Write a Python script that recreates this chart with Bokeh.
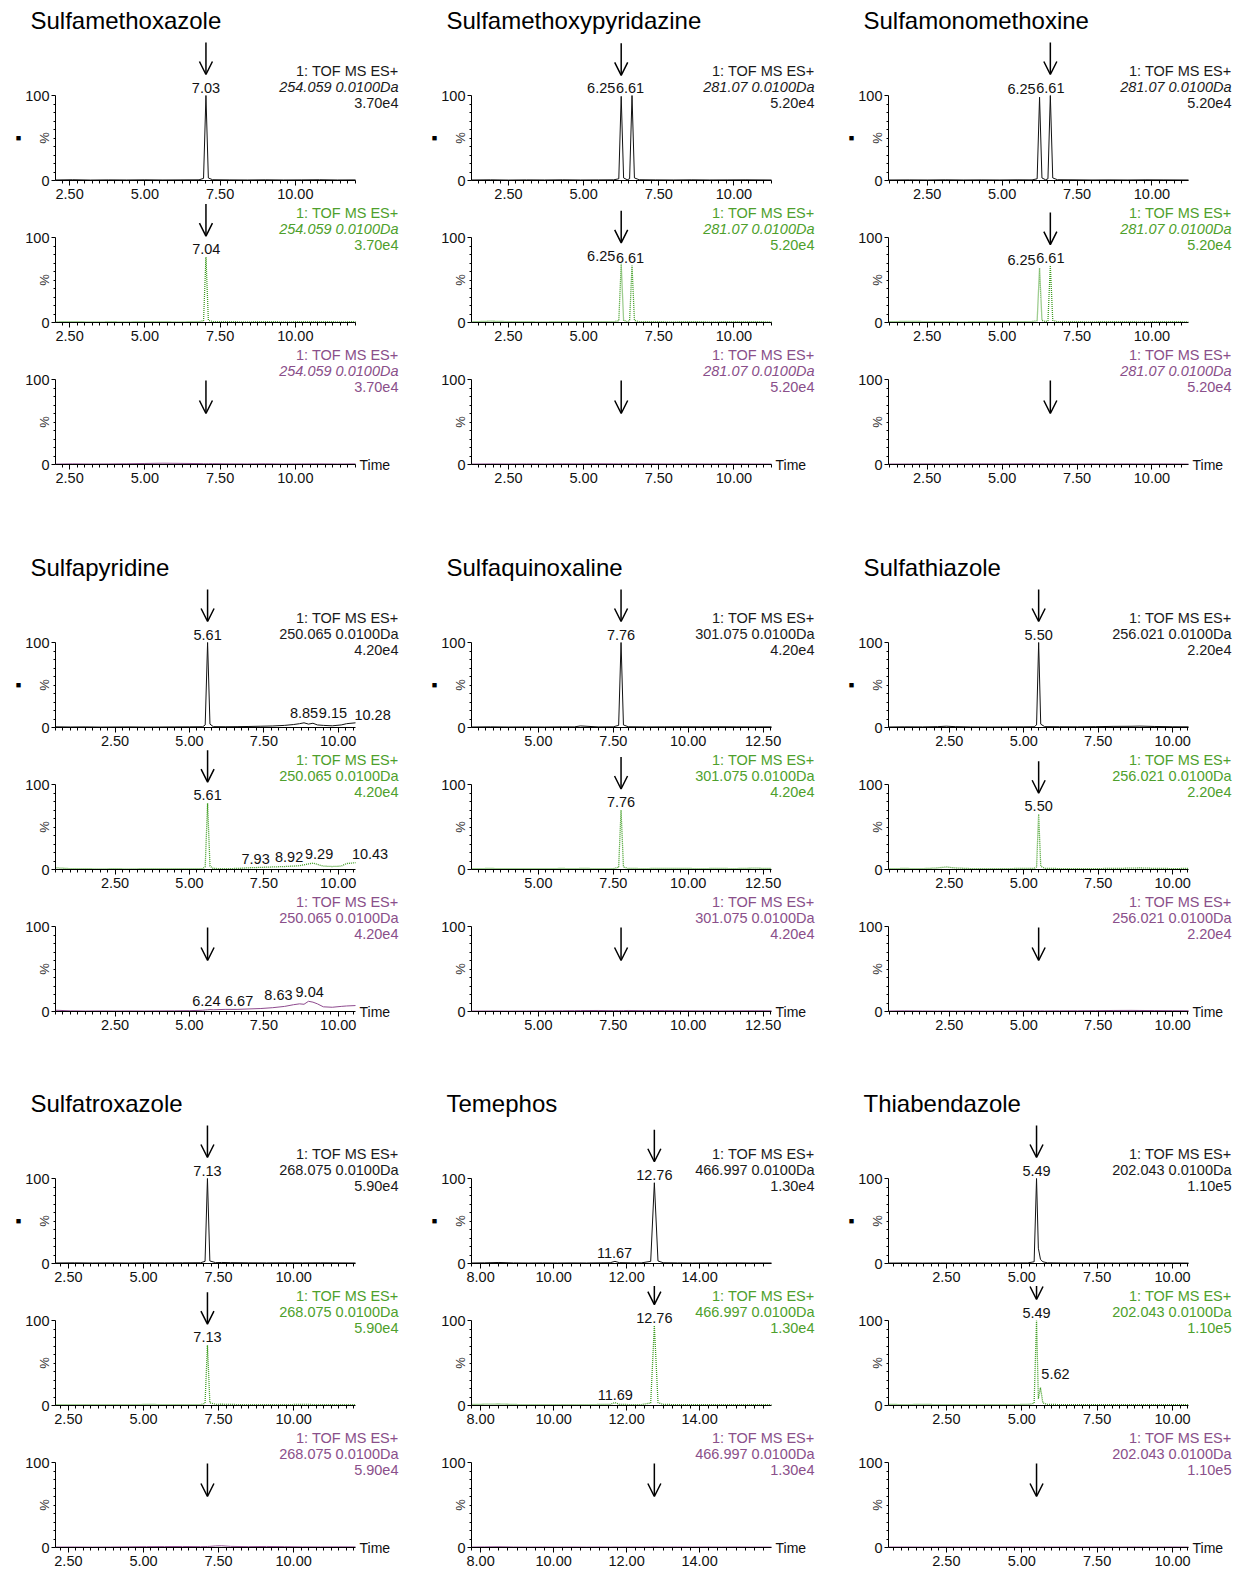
import math
import numpy as np
from bokeh.plotting import figure
from bokeh.models import Range1d, LinearAxis, FixedTicker, PrintfTickFormatter, Label, Arrow, OpenHead
from bokeh.layouts import row, column
from bokeh.embed import file_html
from bokeh.resources import INLINE

# ---------------- data ----------------
compounds = ["Sulfamethoxazole", "Sulfamethoxypyridazine", "Sulfamonomethoxine",
             "Sulfapyridine", "Sulfaquinoxaline", "Sulfathiazole",
             "Sulfatroxazole", "Temephos", "Thiabendazole"]
mz_labels = ["254.059", "281.07", "281.07", "250.065", "301.075", "256.021",
             "268.075", "466.997", "202.043"]
full_scale = ["3.70e4", "5.20e4", "5.20e4", "4.20e4", "4.20e4", "2.20e4",
              "5.90e4", "1.30e4", "1.10e5"]
mass_window = "0.0100Da"
function_label = "1: TOF MS ES+"
time_start = [2.03, 1.27, 1.21, 0.50, 2.77, 0.46, 2.07, 7.75, 0.58]
time_end = [12.00, 11.25, 11.22, 10.58, 12.78, 10.53, 12.06, 15.97, 10.53]
major_ticks = [[2.5, 5.0, 7.5, 10.0], [2.5, 5.0, 7.5, 10.0], [2.5, 5.0, 7.5, 10.0],
               [2.5, 5.0, 7.5, 10.0], [5.0, 7.5, 10.0, 12.5], [2.5, 5.0, 7.5, 10.0],
               [2.5, 5.0, 7.5, 10.0], [8.0, 10.0, 12.0, 14.0], [2.5, 5.0, 7.5, 10.0]]
arrow_rt = [7.03, 6.25, 6.61, 5.61, 7.76, 5.50, 7.13, 12.76, 5.49]

# chromatogram traces (time, % intensity): a = black, b = green, c = purple
t_smx = [2.03, 2.6, 3.2, 3.8, 4.4, 5.0, 5.6, 6.2, 6.8, 6.95, 7.03, 7.11, 7.25, 7.8, 8.4, 9.0, 9.6, 10.2, 10.8, 11.4, 12.0]
smx_a = [0.6, 0.9, 0.5, 0.7, 0.6, 0.8, 0.6, 0.7, 0.8, 2.5, 100, 3.0, 0.9, 0.7, 0.6, 0.8, 0.6, 0.7, 0.9, 0.6, 0.7]
smx_b = [0.8, 1.1, 0.7, 0.9, 0.8, 1.0, 0.9, 0.8, 1.0, 2.0, 77, 2.5, 1.0, 0.9, 0.8, 1.0, 0.8, 0.9, 1.1, 0.8, 0.9]
smx_c = [0.5, 0.8, 0.6, 0.7, 0.9, 1.2, 1.5, 1.3, 1.1, 1.0, 0.9, 1.0, 1.0, 0.8, 0.7, 0.9, 0.6, 0.7, 0.8, 0.6, 0.7]

t_smp = [1.27, 1.9, 2.5, 3.1, 3.7, 4.3, 4.9, 5.5, 6.0, 6.17, 6.25, 6.33, 6.45, 6.53, 6.61, 6.69, 6.85, 7.4, 8.0, 8.6, 9.2, 9.8, 10.4, 11.25]
smp_a = [0.6, 0.8, 0.5, 0.7, 0.6, 0.8, 0.6, 0.7, 0.8, 2.0, 99, 3.0, 0.9, 2.0, 100, 3.0, 0.9, 0.7, 0.6, 0.8, 0.6, 0.7, 0.8, 0.6]
smp_b = [0.8, 1.6, 1.0, 0.9, 0.8, 1.0, 0.9, 1.1, 1.0, 2.0, 69, 2.5, 1.0, 2.0, 67, 2.5, 1.0, 0.9, 0.8, 1.0, 0.8, 0.9, 1.0, 0.8]
smp_c = [0.5, 0.7, 0.6, 0.7, 0.6, 0.8, 0.7, 0.9, 0.8, 0.7, 0.8, 0.7, 0.8, 0.7, 0.8, 0.7, 0.8, 0.7, 0.6, 0.7, 0.6, 0.7, 0.6, 0.5]

t_smm = [1.21, 1.9, 2.5, 3.1, 3.7, 4.3, 4.9, 5.5, 6.0, 6.17, 6.25, 6.33, 6.45, 6.53, 6.61, 6.69, 6.85, 7.4, 8.0, 8.6, 9.2, 9.8, 10.4, 11.22]
smm_a = [0.6, 0.7, 0.6, 0.8, 0.6, 0.7, 0.6, 0.8, 0.7, 2.0, 98, 3.0, 0.9, 2.0, 100, 3.0, 0.9, 0.8, 0.6, 0.7, 0.6, 0.8, 0.7, 0.6]
smm_b = [0.9, 1.4, 1.0, 0.9, 0.8, 1.0, 0.9, 1.0, 1.1, 2.0, 64, 2.5, 1.0, 2.0, 67, 2.5, 1.0, 0.9, 0.8, 1.0, 0.9, 0.8, 1.0, 0.8]
smm_c = [0.5, 0.6, 0.7, 0.6, 0.7, 0.8, 0.7, 0.8, 0.9, 0.8, 0.7, 0.8, 0.7, 0.8, 0.7, 0.8, 0.7, 0.6, 0.7, 0.6, 0.7, 0.6, 0.7, 0.5]

t_spy = [0.5, 1.0, 1.5, 2.0, 2.5, 3.0, 3.5, 4.0, 4.5, 5.0, 5.45, 5.53, 5.61, 5.69, 5.8, 6.2, 6.6, 7.0, 7.4, 7.8,
         8.2, 8.5, 8.7, 8.85, 9.0, 9.15, 9.3, 9.5, 9.8, 10.1, 10.28, 10.58]
spy_a = [0.8, 0.6, 0.7, 0.5, 0.6, 0.7, 0.5, 0.6, 0.7, 0.8, 0.9, 3.0, 100, 4.0, 1.0, 0.9, 1.0, 1.2, 1.5, 1.8,
         2.5, 3.5, 4.5, 5.5, 4.0, 5.0, 3.0, 2.5, 2.0, 3.0, 4.5, 5.5]
spy_b = [2.0, 1.0, 0.9, 0.8, 0.9, 0.8, 0.9, 1.0, 0.9, 1.0, 1.1, 3.0, 78, 4.0, 1.2, 1.0, 1.2, 2.0, 2.5, 3.0,
         3.5, 4.0, 4.5, 5.5, 6.5, 7.5, 6.0, 4.0, 3.5, 4.0, 7.0, 8.0]
spy_c = [1.5, 0.8, 0.6, 0.7, 0.6, 0.7, 0.6, 0.7, 0.8, 1.0, 1.5, 1.8, 2.0, 2.2, 2.0, 2.5, 2.5, 3.0, 3.5, 4.5,
         6.0, 8.0, 9.0, 8.5, 12.0, 11.0, 9.0, 5.5, 5.0, 6.0, 6.5, 7.0]

t_sqx = [2.77, 3.4, 4.0, 4.6, 5.2, 5.8, 6.2, 6.4, 7.0, 7.5, 7.68, 7.76, 7.84, 8.0, 8.6, 9.2, 9.8, 10.4, 11.0, 11.6, 12.2, 12.78]
sqx_a = [0.6, 0.8, 0.6, 0.7, 0.6, 0.8, 0.7, 1.8, 0.7, 0.8, 2.5, 100, 3.0, 0.9, 0.7, 0.8, 0.9, 0.8, 0.9, 0.8, 0.7, 0.8]
sqx_b = [1.0, 1.2, 0.9, 1.1, 1.0, 1.2, 1.0, 1.2, 1.1, 1.0, 2.5, 70, 3.0, 1.2, 1.1, 1.3, 1.2, 1.1, 1.2, 1.1, 1.6, 1.2]
sqx_c = [0.5, 0.6, 0.5, 0.6, 0.7, 0.9, 1.0, 1.1, 1.2, 1.0, 1.1, 1.0, 1.1, 1.2, 1.0, 1.1, 0.9, 0.8, 0.7, 0.8, 0.9, 0.8]

t_stz = [0.46, 1.0, 1.6, 2.1, 2.4, 2.7, 3.2, 3.8, 4.4, 5.0, 5.35, 5.43, 5.50, 5.57, 5.7, 6.2, 6.8, 7.4, 8.0, 8.6, 8.9, 9.4, 10.0, 10.53]
stz_a = [0.6, 0.8, 0.7, 1.0, 1.5, 1.0, 0.7, 0.6, 0.7, 0.8, 0.9, 3.0, 100, 4.0, 1.0, 0.9, 0.8, 1.0, 1.3, 1.4, 1.6, 1.2, 0.9, 0.8]
stz_b = [1.0, 1.2, 1.0, 1.8, 3.0, 1.8, 1.1, 1.0, 1.1, 1.2, 1.2, 3.0, 65, 4.0, 1.3, 1.1, 1.0, 1.1, 1.2, 1.6, 1.8, 1.3, 1.1, 1.2]
stz_c = [0.5, 0.8, 0.6, 0.5, 0.6, 0.5, 0.6, 0.5, 0.6, 0.7, 0.7, 0.8, 0.7, 0.8, 0.7, 0.8, 0.9, 1.0, 1.2, 1.3, 1.2, 1.1, 1.0, 0.9]

t_stx = [2.07, 2.7, 3.3, 3.9, 4.5, 5.1, 5.7, 6.3, 6.9, 7.05, 7.13, 7.21, 7.4, 7.6, 7.9, 8.5, 9.1, 9.7, 10.3, 10.9, 11.5, 12.06]
stx_a = [0.6, 0.8, 0.6, 0.7, 0.6, 0.8, 0.7, 0.8, 0.9, 2.5, 100, 3.0, 1.0, 1.2, 1.0, 0.8, 0.7, 0.8, 0.7, 0.8, 0.7, 0.6]
stx_b = [1.0, 1.1, 1.0, 1.1, 1.0, 1.2, 1.1, 1.0, 1.1, 2.5, 71, 3.0, 1.3, 1.5, 1.2, 1.0, 1.1, 1.0, 1.3, 1.0, 1.1, 1.0]
stx_c = [0.5, 0.6, 0.5, 0.6, 0.8, 1.0, 1.1, 1.2, 1.0, 1.1, 1.2, 1.3, 1.8, 2.0, 1.3, 1.0, 1.2, 1.0, 0.8, 0.7, 0.8, 0.7]

t_tmp = [7.75, 8.1, 8.5, 8.9, 9.3, 9.7, 10.1, 10.5, 10.9, 11.3, 11.55, 11.68, 11.8, 12.1, 12.4, 12.66, 12.76, 12.86,
         13.0, 13.4, 13.8, 14.2, 14.6, 15.0, 15.4, 15.97]
tmp_a = [0.6, 0.8, 1.2, 0.7, 0.6, 0.7, 0.6, 0.7, 0.6, 0.8, 0.9, 2.5, 1.0, 0.8, 0.7, 2.5, 95, 3.0,
         0.9, 0.7, 0.6, 0.7, 0.6, 0.7, 0.6, 0.6]
tmp_b = [1.2, 1.5, 1.8, 1.2, 1.0, 1.1, 1.0, 1.1, 1.0, 1.2, 1.3, 3.5, 1.3, 1.1, 1.0, 3.0, 94, 3.5,
         1.2, 1.1, 1.0, 1.1, 1.0, 1.1, 1.0, 1.0]
tmp_c = [0.5, 0.7, 0.9, 0.6, 0.5, 0.6, 0.5, 0.6, 0.5, 0.6, 0.5, 0.6, 0.5, 0.6, 0.5, 0.6, 0.7, 0.6,
         0.5, 0.6, 0.5, 0.6, 0.5, 0.6, 0.5, 0.5]

t_tbz = [0.58, 1.1, 1.7, 2.3, 2.9, 3.5, 4.1, 4.7, 5.2, 5.41, 5.49, 5.55, 5.62, 5.70, 5.85, 6.4, 7.0, 7.6, 8.2, 8.8, 9.4, 10.0, 10.53]
tbz_a = [0.5, 0.6, 0.5, 0.6, 0.5, 0.6, 0.5, 0.6, 0.7, 2.0, 100, 18, 5.0, 2.0, 0.8, 0.6, 0.5, 0.6, 0.5, 0.6, 0.5, 0.6, 0.5]
tbz_b = [1.2, 1.1, 1.2, 1.1, 1.0, 1.1, 1.0, 1.1, 1.2, 2.5, 100, 8.0, 21, 3.0, 1.2, 1.1, 1.0, 1.1, 1.0, 1.1, 1.0, 1.1, 1.0]
tbz_c = [0.5, 0.6, 0.5, 0.6, 0.5, 0.6, 0.5, 0.6, 0.5, 0.6, 0.5, 0.6, 0.5, 0.6, 0.5, 0.6, 0.5, 0.6, 0.5, 0.6, 0.5, 0.6, 0.5]

times = [t_smx, t_smp, t_smm, t_spy, t_sqx, t_stz, t_stx, t_tmp, t_tbz]
traces = [[smx_a, smx_b, smx_c], [smp_a, smp_b, smp_c], [smm_a, smm_b, smm_c],
          [spy_a, spy_b, spy_c], [sqx_a, sqx_b, sqx_c], [stz_a, stz_b, stz_c],
          [stx_a, stx_b, stx_c], [tmp_a, tmp_b, tmp_c], [tbz_a, tbz_b, tbz_c]]

# peak labels (retention time shown, height of the annotated point)
label_rt_a = [[7.03], [6.25, 6.61], [6.25, 6.61], [5.61, 8.85, 9.15, 10.28], [7.76], [5.50], [7.13], [12.76, 11.67], [5.49]]
label_h_a = [[100], [99, 100], [98, 100], [100, 8, 8, 5], [100], [100], [100], [95, 3.5], [100]]
label_rt_b = [[7.04], [6.25, 6.61], [6.25, 6.61], [5.61, 7.93, 8.92, 9.29, 10.43], [7.76], [5.50], [7.13], [12.76, 11.69], [5.49, 5.62]]
label_h_b = [[77], [69, 67], [64, 67], [78, 3.5, 5, 9, 9], [70], [65], [71], [94, 3], [100, 28]]
label_rt_c = [[], [], [], [6.24, 6.67, 8.63, 9.04], [], [], [], [], []]
label_h_c = [[], [], [], [3.5, 3.5, 10.5, 14], [], [], [], [], []]

# ---------------- layout / style ----------------
label_dx_a = [[0], [-20, -2], [-18, 0], [0, 0, 20, 26], [0], [0], [0], [0, 0], [0]]
label_dx_b = [[0], [-20, -2], [-18, 0], [0, -21, -17, 2, 19], [0], [0], [0], [0, 0], [0, 15]]
label_dx_c = [[], [], [], [-20, 0, -19, 0], [], [], [], [], []]
label_rt = [label_rt_a, label_rt_b, label_rt_c]
label_h = [label_h_a, label_h_b, label_h_c]
label_dx = [label_dx_a, label_dx_b, label_dx_c]

FONT = "Liberation Sans"
FS = "14.5px"
Y_PX = 85
PPU_Y = Y_PX / 100.0
BOTTOM = 22
HEAD_FIRST = [95, 156, 145]
HEAD_NEXT = 35
COL_W = [416, 416, 418]
COL_L = [55, 55, 56]
AXIS_PX = 300
TEXT_X = 343
TRACE_COLORS = ["#111111", "#3f9c22", "#8e4a8e"]
TEXT_COLORS = ["#1a1a1a", "#4e9f2c", "#8a4f8a"]
TRACE_DASH = ["solid", "1 1", "solid"]


def style_axis(ax, standoff, tick_out, minor_out):
    ax.axis_line_color = "black"
    ax.axis_line_width = 1
    ax.major_tick_line_color = "black"
    ax.minor_tick_line_color = "black"
    ax.major_tick_in = 0
    ax.major_tick_out = tick_out
    ax.minor_tick_in = 0
    ax.minor_tick_out = minor_out
    ax.major_label_text_font = FONT
    ax.major_label_text_font_size = FS
    ax.major_label_text_color = "#111111"
    ax.major_label_standoff = standoff


def build(ci, ti):
    r, col = divmod(ci, 3)
    head = HEAD_FIRST[r] if ti == 0 else HEAD_NEXT
    w = COL_W[col]
    left = COL_L[col]
    fig_h = head + Y_PX + BOTTOM
    x0, x1 = time_start[ci], time_end[ci]
    ppx = AXIS_PX / (x1 - x0)
    ys = -BOTTOM / PPU_Y
    ye = 100 + head / PPU_Y
    p = figure(width=w, height=fig_h,
               x_range=Range1d(x0 - left / ppx, x0 + (w - left) / ppx),
               y_range=Range1d(ys, ye),
               x_axis_type=None, y_axis_type=None, toolbar_location=None,
               output_backend="svg", title=None, min_border=0)
    p.outline_line_color = None
    p.background_fill_color = "white"
    p.border_fill_color = "white"

    minor = [float(v) for v in np.arange(math.ceil(x0 * 4) / 4, x1 + 1e-9, 0.25)
             if not any(abs(v - m) < 1e-6 for m in major_ticks[ci])]
    xa = LinearAxis(ticker=FixedTicker(ticks=major_ticks[ci], minor_ticks=minor),
                    formatter=PrintfTickFormatter(format="%.2f"), bounds=(x0, x1),
                    fixed_location=0)
    style_axis(xa, 3, 5, 3)
    p.add_layout(xa, "below")
    ya = LinearAxis(ticker=FixedTicker(ticks=[0, 100], minor_ticks=list(range(10, 100, 10))),
                    bounds=(0, 100), fixed_location=x0)
    style_axis(ya, 2, 4, 2)
    p.add_layout(ya, "left")

    t = times[ci]
    v = traces[ci][ti]
    p.line(t, v, line_color=TRACE_COLORS[ti], line_width=1.3 if ti == 1 else 1,
           line_dash=TRACE_DASH[ti])

    # function / mass / scale text
    lines = [function_label, mz_labels[ci] + " " + mass_window, full_scale[ci]]
    offs = [25, 9, -7]
    for k, (txt, oy) in enumerate(zip(lines, offs)):
        p.add_layout(Label(x=x0, y=100, x_offset=TEXT_X, y_offset=oy, text=txt,
                           text_align="right", text_baseline="middle",
                           text_font=FONT, text_font_size=FS,
                           text_font_style="italic" if (r == 0 and k == 1) else "normal",
                           text_color=TEXT_COLORS[ti]))

    # peak labels
    for rt, h, dx in zip(label_rt[ti][ci], label_h[ti][ci], label_dx[ti][ci]):
        p.add_layout(Label(x=rt, y=h, x_offset=dx, y_offset=3, text="%.2f" % rt,
                           text_align="center", text_baseline="bottom",
                           text_font=FONT, text_font_size=FS, text_color="#111111"))

    # arrow
    ax_rt = arrow_rt[ci]
    if ti < 2:
        near = [val for tt, val in zip(t, v) if abs(tt - ax_rt) < 0.1]
        hpk = max(near)
        yb = hpk + 21 / PPU_Y
        yt = min(yb + 32 / PPU_Y, ye - 0.5 / PPU_Y)
    else:
        yt = 100 - 1 / PPU_Y
        yb = 100 - 34 / PPU_Y
    p.add_layout(Arrow(end=OpenHead(size=13, line_width=1.5, line_color="black"),
                       x_start=ax_rt, y_start=yt, x_end=ax_rt, y_end=yb,
                       line_width=1.5, line_color="black"))

    # % label
    p.add_layout(Label(x=x0, y=50, x_offset=-11, text="%", angle=math.pi / 2,
                       text_align="center", text_baseline="middle",
                       text_font=FONT, text_font_size="13px", text_color="#333333"))
    if ti == 0:
        p.add_layout(Label(x=x0, y=50, x_offset=-37, text="\u25a0",
                           text_align="center", text_baseline="middle",
                           text_font=FONT, text_font_size="9px", text_color="black"))
        p.add_layout(Label(x=x0, y=100, x_offset=-25, y_offset=75, text=compounds[ci],
                           text_align="left", text_baseline="middle",
                           text_font=FONT, text_font_size="24px", text_color="black"))
    if ti == 2:
        p.add_layout(Label(x=x1, y=0, x_offset=4, text="Time",
                           text_align="left", text_baseline="middle",
                           text_font=FONT, text_font_size="14px", text_color="#111111"))
    return p


grid_rows = []
for r in range(3):
    cols = []
    for col in range(3):
        ci = r * 3 + col
        cols.append(column(*[build(ci, ti) for ti in range(3)]))
    grid_rows.append(row(*cols))
layout = column(*grid_rows)

open("out.html", "w").write(file_html(layout, INLINE))
